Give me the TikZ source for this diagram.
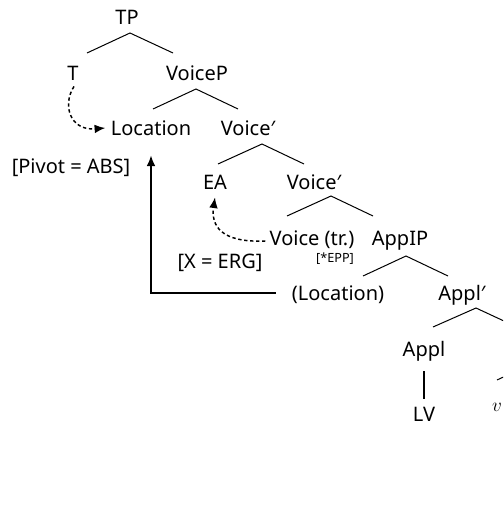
\documentclass[tikz,border=0pt]{standalone}
\usepackage{fontspec}
\setmainfont{Noto Sans}
\usetikzlibrary{arrows.meta}
\begin{document}
\begin{tikzpicture}[x=0.75pt,y=-0.75pt,
  lab/.style={font=\fontsize{15}{18}\selectfont, inner sep=0pt, text height=10.7pt, text depth=0pt, anchor=center},
  sm/.style={font=\fontsize{9.5}{11}\selectfont, inner sep=0pt, text height=6.8pt, text depth=0pt, anchor=center},
  br/.style={line width=0.75pt},
  mv/.style={line width=1.1pt, dash pattern=on 2.5pt off 2pt, -{Latex[length=8pt,width=6.5pt]}},
  ag/.style={line width=1.1pt, -{Latex[length=8pt,width=6.5pt]}}]
\useasboundingbox (0,0) rectangle (503,527);
\clip (0,0) rectangle (503,527);
% nodes
\node[lab] (TP) at (127,17) {TP};
\node[lab] (T) at (73,73) {T};
\node[lab] (VP) at (197,73) {VoiceP};
\node[lab] (Loc) at (151,128) {Location};
\node[lab] (Vb1) at (248,128) {Voice′};
\node[lab] (Piv) at (71,166) {[Pivot = ABS]};
\node[lab] (EA) at (215,182) {EA};
\node[lab] (Vb2) at (314,182) {Voice′};
\node[lab] (Vtr) at (312,238) {Voice (tr.)};
\node[lab] (AppIP) at (400,238) {AppIP};
\node[sm] (EPP) at (335,258) {[*EPP]};
\node[lab] (XERG) at (220,261) {[X = ERG]};
\node[lab] (LocP) at (338,293) {(Location)};
\node[lab] (Applb) at (462,293) {Appl′};
\node[lab] (Appl) at (424,349) {Appl};
\node[lab] (LV) at (424,414) {LV};
\node[font=\fontsize{15}{18}\selectfont, inner sep=0pt, anchor=base] (v) at (497,411) {$v$};
% branch end points
\coordinate (a1) at (130,33); \coordinate (l1) at (87,53); \coordinate (r1) at (173,53);
\coordinate (a2) at (196,89); \coordinate (l2) at (153,109); \coordinate (r2) at (238,109);
\coordinate (a3) at (262,144); \coordinate (l3) at (218,164); \coordinate (r3) at (304,164);
\coordinate (a4) at (331,196); \coordinate (l4) at (287,216); \coordinate (r4) at (373,216);
\coordinate (a5) at (406,256); \coordinate (l5) at (363,276); \coordinate (r5) at (448,276);
\coordinate (a6) at (476,308); \coordinate (l6) at (433,327); \coordinate (r6) at (519,328);
\coordinate (a7) at (540,360); \coordinate (l7) at (497,380);
\draw[br] (l1) -- (a1) -- (r1);
\draw[br] (l2) -- (a2) -- (r2);
\draw[br] (l3) -- (a3) -- (r3);
\draw[br] (l4) -- (a4) -- (r4);
\draw[br] (l5) -- (a5) -- (r5);
\draw[br] (l6) -- (a6) -- (r6);
\draw[br] (l7) -- (a7);
\draw[line width=1pt] ([yshift=-11pt]Appl.south) -- ([yshift=6pt]LV.north);
% movement arrows
\draw[mv] ([shift={(1,6)}]T.south) .. controls (62,105) and (70,131) .. ([xshift=-4pt]Loc.west);
\draw[mv] ([shift={(-4,3)}]Vtr.west) .. controls (220,243) and (211,225) .. ([yshift=-6pt]EA.south);
\draw[ag] ([xshift=-12pt]LocP.west |- 0,293) -| ([yshift=-15pt]Loc.south);
\end{tikzpicture}
\end{document}
